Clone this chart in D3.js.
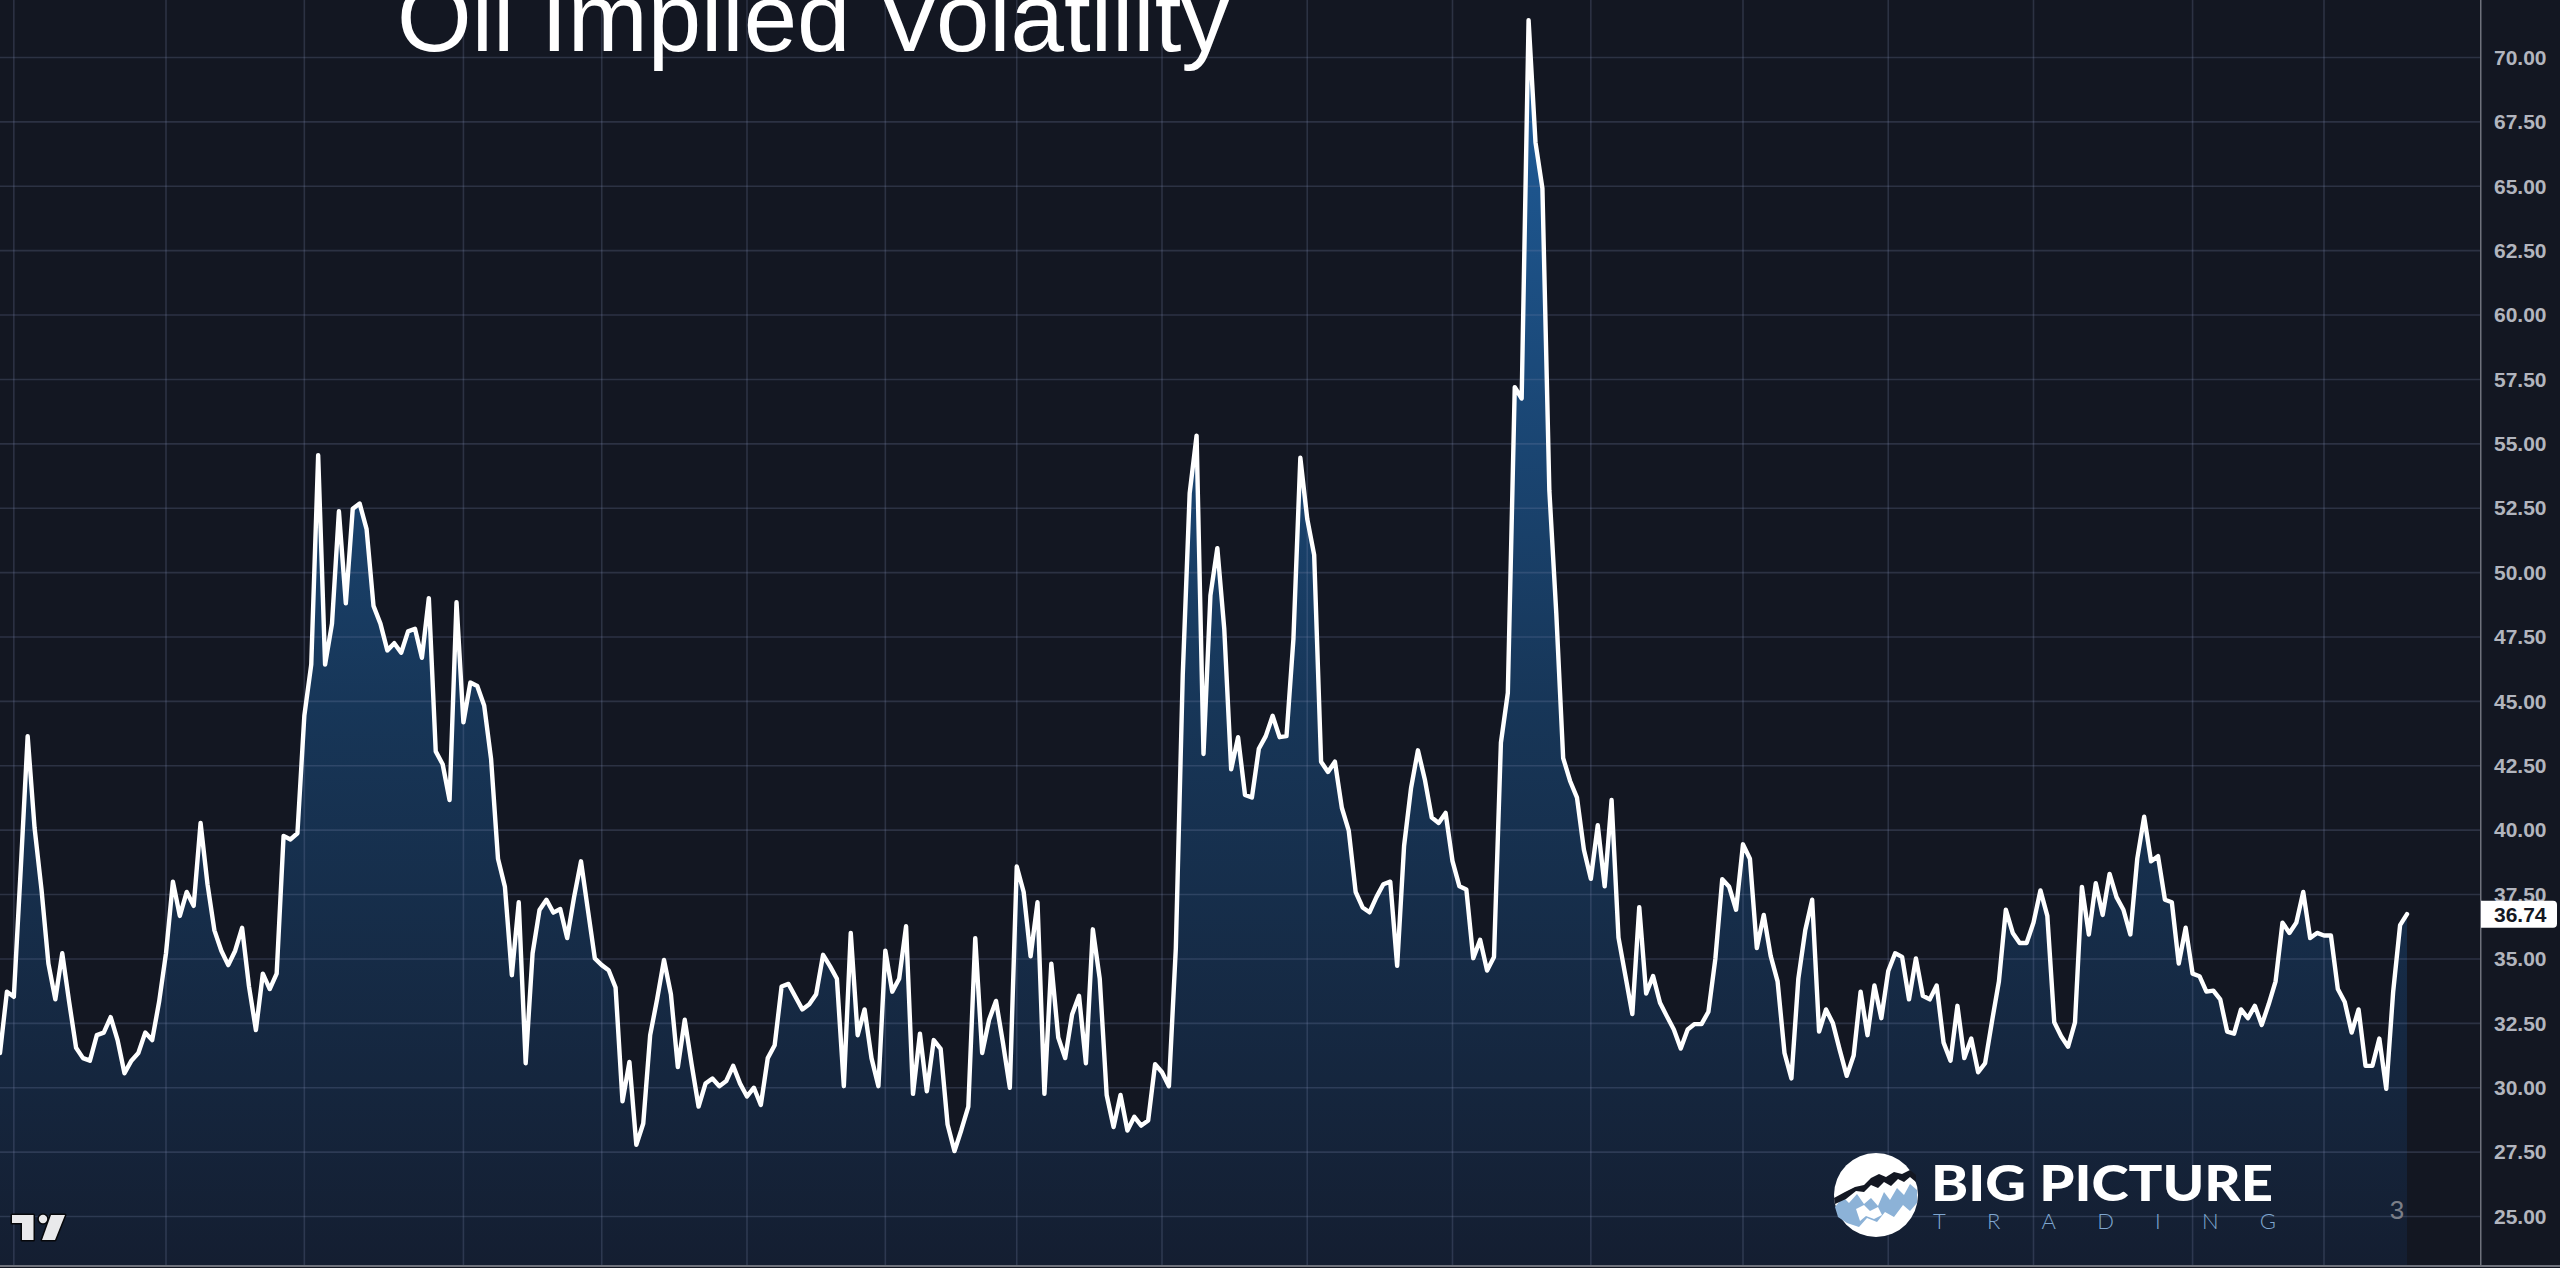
<!DOCTYPE html>
<html>
<head>
<meta charset="utf-8">
<script src="https://cdn.jsdelivr.net/npm/d3@7/dist/d3.min.js"></script>
<style>
  html, body { margin: 0; padding: 0; background: #131722; overflow: hidden; }
  svg { display: block; }
</style>
</head>
<body>
<svg id="chart" width="2560" height="1268"></svg>
<script>
// daily oil implied volatility, one value per session
var vol = [
  31.35, 33.73, 33.53, 38.5, 43.65, 40.08, 37.7, 34.82, 33.43, 35.22,
  33.33, 31.55, 31.15, 31.05, 32.04, 32.14, 32.74, 31.85, 30.56, 31.05,
  31.35, 32.14, 31.85, 33.33, 35.22, 38.0, 36.67, 37.6, 37.06, 40.28,
  37.9, 36.11, 35.32, 34.76, 35.32, 36.21, 33.93, 32.24, 34.43, 33.83,
  34.43, 39.78, 39.64, 39.88, 44.44, 46.43, 54.56, 46.43, 48.02, 52.38,
  48.81, 52.48, 52.68, 51.69, 48.71, 48.02, 46.98, 47.26, 46.89, 47.72,
  47.82, 46.69, 49.01, 43.06, 42.56, 41.17, 48.85, 44.19, 45.73, 45.6,
  44.84, 42.76, 38.89, 37.8, 34.37, 37.2, 30.95, 35.22, 36.9, 37.3,
  36.8, 36.94, 35.81, 37.4, 38.79, 36.9, 35.02, 34.76, 34.56, 33.89,
  29.47, 31.0, 27.78, 28.61, 32.04, 33.43, 34.96, 33.63, 30.8, 32.64,
  30.9, 29.27, 30.16, 30.36, 30.06, 30.26, 30.85, 30.16, 29.66, 30.0,
  29.33, 31.15, 31.65, 33.93, 34.03, 33.53, 33.04, 33.24, 33.63, 35.16,
  34.72, 34.23, 30.06, 36.01, 32.04, 33.04, 31.15, 30.06, 35.32, 33.73,
  34.23, 36.27, 29.76, 32.1, 29.86, 31.85, 31.51, 28.57, 27.54, 28.37,
  29.27, 35.81, 31.35, 32.64, 33.37, 31.75, 30.0, 38.59, 37.6, 35.1,
  37.2, 29.76, 34.82, 31.95, 31.15, 32.84, 33.57, 30.95, 36.15, 34.23,
  29.72, 28.47, 29.72, 28.34, 28.87, 28.53, 28.73, 30.91, 30.6, 30.06,
  35.42, 46.03, 53.08, 55.32, 42.96, 49.11, 50.95, 47.82, 42.36, 43.61,
  41.37, 41.27, 43.16, 43.65, 44.44, 43.61, 43.65, 47.42, 54.46, 52.08,
  50.69, 42.66, 42.26, 42.66, 40.87, 39.98, 37.6, 37.0, 36.81, 37.4,
  37.9, 38.0, 34.73, 39.39, 41.62, 43.1, 41.97, 40.49, 40.28, 40.67,
  38.8, 37.82, 37.7, 35.03, 35.74, 34.55, 35.08, 43.4, 45.33, 57.2,
  56.76, 71.45, 66.7, 64.92, 53.2, 48.45, 42.8, 41.91, 41.26, 39.24,
  38.11, 40.19, 37.82, 41.17, 35.83, 34.34, 32.86, 37.01, 33.66, 34.34,
  33.3, 32.77, 32.26, 31.52, 32.26, 32.47, 32.47, 32.95, 35.0, 38.1,
  37.8, 36.91, 39.45, 38.89, 35.42, 36.71, 35.12, 34.13, 31.35, 30.36,
  34.23, 36.11, 37.3, 32.18, 33.04, 32.5, 31.45, 30.46, 31.25, 33.73,
  32.04, 33.97, 32.7, 34.53, 35.22, 35.08, 33.43, 35.02, 33.57, 33.43,
  33.97, 31.75, 31.05, 33.18, 31.15, 31.91, 30.6, 30.95, 32.58, 34.13,
  36.91, 36.01, 35.62, 35.62, 36.41, 37.66, 36.67, 32.54, 32.0, 31.59,
  32.54, 37.8, 35.95, 37.94, 36.71, 38.3, 37.4, 36.91, 35.95, 38.89,
  40.52, 38.79, 38.99, 37.3, 37.2, 34.82, 36.21, 34.43, 34.33, 33.73,
  33.77, 33.43, 32.18, 32.1, 33.04, 32.7, 33.18, 32.44, 33.24, 34.13,
  36.41, 36.01, 36.41, 37.6, 35.81, 36.01, 35.91, 35.91, 33.83, 33.33,
  32.14, 33.04, 30.85, 30.85, 31.91, 29.96, 33.73, 36.31, 36.74
];

// price scale labels
var yTicks = [25, 27.5, 30, 32.5, 35, 37.5, 40, 42.5, 45, 47.5, 50, 52.5,
              55, 57.5, 60, 62.5, 65, 67.5, 70, 72.5];

// session index of the first bar of each month (vertical grid)
var monthStarts = [2, 24, 44, 67, 87, 108, 128, 147, 168, 189, 210, 230,
                   252, 273, 294, 317, 336];

var titleText = "Oil Implied Volatility";

(function () {
  var svg = d3.select("#chart");
  var paneRight = 2480,
      paneBottom = 1265,
      bg = "#131722";

  var x = d3.scaleLinear()
      .domain([0, vol.length - 1])
      .range([0, 2407]);

  var y = d3.scaleLinear()
      .domain([25, 70])
      .range([1216.5, 57.5]);

  svg.append("rect")
     .attr("width", 2560).attr("height", 1268)
     .attr("fill", bg);

  // area gradient
  var defs = svg.append("defs");
  var grad = defs.append("linearGradient")
      .attr("id", "areaFill")
      .attr("gradientUnits", "userSpaceOnUse")
      .attr("x1", 0).attr("x2", 0)
      .attr("y1", y(d3.max(vol))).attr("y2", paneBottom);
  grad.append("stop").attr("offset", "0%").attr("stop-color", "#1f5e9d");
  grad.append("stop").attr("offset", "55%").attr("stop-color", "#173658");
  grad.append("stop").attr("offset", "100%").attr("stop-color", "#141e31");

  var area = d3.area()
      .x(function(d, i) { return x(i); })
      .y0(paneBottom)
      .y1(function(d) { return y(d); });

  var line = d3.line()
      .x(function(d, i) { return x(i); })
      .y(function(d) { return y(d); });

  svg.append("path")
     .datum(vol)
     .attr("d", area)
     .attr("fill", "url(#areaFill)");

  // grid over the fill, like the tradingview pane
  var grid = svg.append("g").attr("class", "grid");
  grid.selectAll("line.h")
      .data(yTicks)
      .enter().append("line")
      .attr("class", "h")
      .attr("x1", 0).attr("x2", paneRight)
      .attr("y1", function(d) { return y(d); })
      .attr("y2", function(d) { return y(d); });
  grid.selectAll("line.v")
      .data(monthStarts)
      .enter().append("line")
      .attr("class", "v")
      .attr("x1", function(d) { return x(d); })
      .attr("x2", function(d) { return x(d); })
      .attr("y1", 0).attr("y2", paneBottom);
  grid.selectAll("line")
      .attr("stroke", "rgba(125,140,175,0.24)")
      .attr("stroke-width", 1.6);

  svg.append("path")
     .datum(vol)
     .attr("d", line)
     .attr("fill", "none")
     .attr("stroke", "#ffffff")
     .attr("stroke-width", 4.4)
     .attr("stroke-linejoin", "round")
     .attr("stroke-linecap", "round");

  // title
  svg.append("text")
     .attr("x", 397).attr("y", 51)
     .attr("fill", "#ffffff")
     .style("font-family", "'Liberation Sans', Arial, sans-serif")
     .style("font-size", "96px")
     .text(titleText);

  // price axis
  svg.append("rect")
     .attr("x", paneRight).attr("y", 0)
     .attr("width", 2560 - paneRight).attr("height", 1268)
     .attr("fill", bg);
  svg.append("line")
     .attr("x1", paneRight + 0.75).attr("x2", paneRight + 0.75)
     .attr("y1", 0).attr("y2", paneBottom)
     .attr("stroke", "#6f727c").attr("stroke-width", 1.5);
  svg.append("line")
     .attr("x1", 0).attr("x2", 2560)
     .attr("y1", paneBottom + 1).attr("y2", paneBottom + 1)
     .attr("stroke", "#6f727c").attr("stroke-width", 2);

  var yAxis = d3.axisRight(y)
      .tickValues(yTicks)
      .tickFormat(d3.format(".2f"))
      .tickSize(0)
      .tickPadding(14);
  var ax = svg.append("g")
      .attr("transform", "translate(" + paneRight + ",0)")
      .call(yAxis);
  ax.select(".domain").remove();
  ax.selectAll("text")
    .attr("fill", "#b2b5be")
    .style("font-family", "'Liberation Sans', Arial, sans-serif")
    .style("font-size", "21px")
    .style("font-weight", "bold");

  // last value tag
  var last = vol[vol.length - 1];
  var tag = svg.append("g")
      .attr("transform", "translate(" + (paneRight + 1) + "," + y(last) + ")");
  tag.append("path")
     .attr("d", "M0,-13.5 H72 Q76,-13.5 76,-9.5 V9.5 Q76,13.5 72,13.5 H0 Z")
     .attr("fill", "#ffffff");
  tag.append("text")
     .attr("x", 13).attr("dy", "0.36em")
     .attr("fill", "#131722")
     .style("font-family", "'Liberation Sans', Arial, sans-serif")
     .style("font-size", "21px")
     .style("font-weight", "bold")
     .text(d3.format(".2f")(last));

  // tradingview mark
  var tv = svg.append("g")
      .attr("fill", "#e9e9eb")
      .attr("stroke", "#07080b")
      .attr("stroke-width", 3)
      .attr("stroke-linejoin", "round")
      .attr("paint-order", "stroke");
  tv.append("path").attr("d", "M12,1215 H33.5 V1240 H22 V1223 H12 Z");
  tv.append("circle").attr("cx", 43).attr("cy", 1219).attr("r", 4.2);
  tv.append("path").attr("d", "M51,1215 H65 L55,1240 H42 Z");

  // big picture trading mark
  var logo = svg.append("g").attr("transform", "translate(1876,1195)");
  logo.append("circle").attr("r", 42).attr("fill", "#ffffff");
  logo.append("path")
      .attr("d", "M-41,12 L-33,2 L-27,8 L-19,-1 L-12,9 L-5,3 L2,11 L8,-3 L14,5 L21,-7 L28,0 L34,-11 L41,-5 L41,8 L34,16 L27,10 L18,22 L9,17 L1,27 L-9,23 L-17,32 L-29,28 L-38,22 Z")
      .attr("fill", "#8cb2d7");
  logo.append("path")
      .attr("d", "M-42,3 L-31,-3 L-21,-8 L-12,-10 L-5,-17 L3,-21 L10,-18 L18,-23 L26,-21 L34,-25 L40,-20 L40,-13 L34,-18 L28,-13 L22,-16 L15,-9 L8,-13 L2,-7 L-5,-10 L-12,-3 L-20,-4 L-30,4 L-41,9 Z")
      .attr("fill", "#131722");
  logo.append("path")
      .attr("d", "M-20,14 L-12,10 L-6,16 L2,12 L6,20 L-2,24 L-10,21 L-16,26 Z")
      .attr("fill", "#ffffff");

  svg.append("text")
     .attr("x", 1931).attr("y", 1201)
     .attr("textLength", 342).attr("lengthAdjust", "spacingAndGlyphs")
     .attr("fill", "#ffffff")
     .style("font-family", "Lato, 'Open Sans', sans-serif")
     .style("font-size", "50px")
     .style("font-weight", "900")
     .text("BIG PICTURE");
  svg.append("text")
     .attr("x", 1933).attr("y", 1229)
     .attr("textLength", 343).attr("lengthAdjust", "spacing")
     .attr("fill", "#7fa6cf")
     .style("font-family", "Lato, 'Open Sans', sans-serif")
     .style("font-size", "22px")
     .style("font-weight", "300")
     .text("TRADING");

  svg.append("text")
     .attr("x", 2397).attr("y", 1219)
     .attr("text-anchor", "middle")
     .attr("fill", "#7c7f88")
     .style("font-family", "'Liberation Sans', Arial, sans-serif")
     .style("font-size", "26px")
     .text("3");
})();
</script>
</body>
</html>
